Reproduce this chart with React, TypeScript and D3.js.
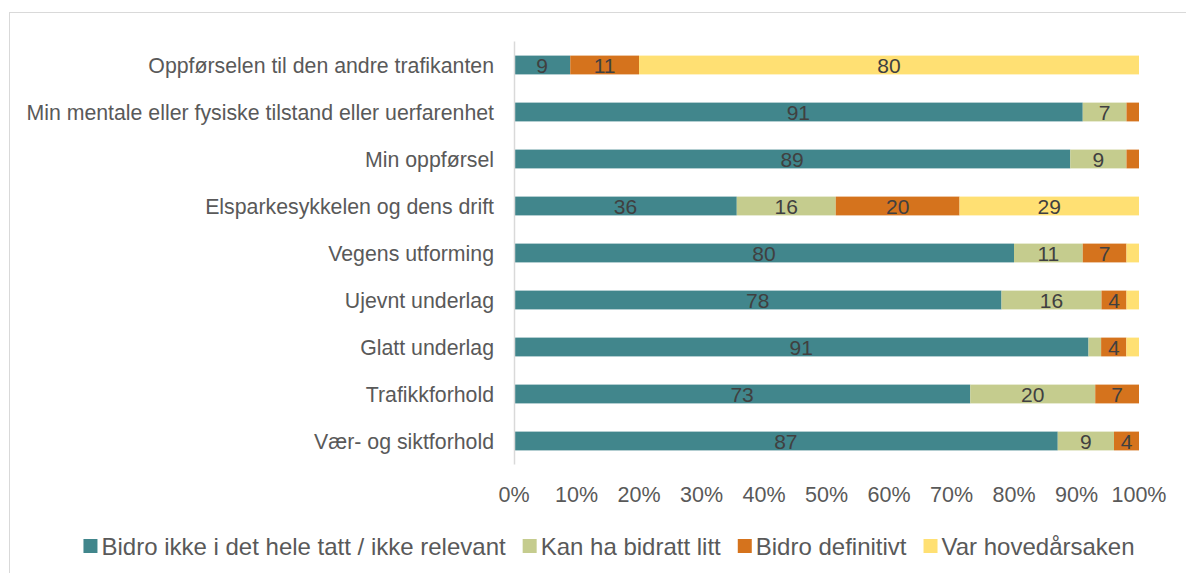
import { useEffect, useRef } from 'react';
import * as d3 from 'd3';

const categories = [
  'Oppførselen til den andre trafikanten',
  'Min mentale eller fysiske tilstand eller uerfarenhet',
  'Min oppførsel',
  'Elsparkesykkelen og dens drift',
  'Vegens utforming',
  'Ujevnt underlag',
  'Glatt underlag',
  'Trafikkforhold',
  'Vær- og siktforhold',
];

const seriesNames = [
  'Bidro ikke i det hele tatt / ikke relevant',
  'Kan ha bidratt litt',
  'Bidro definitivt',
  'Var hovedårsaken',
];

const notRelevant = [9, 91, 89, 36, 80, 78, 91, 73, 87];
const maybeLittle = [0, 7, 9, 16, 11, 16, 2, 20, 9];
const definitely = [11, 2, 2, 20, 7, 4, 4, 7, 4];
const mainCause = [80, 0, 0, 29, 2, 2, 2, 0, 0];

const tickValues = [0, 0.1, 0.2, 0.3, 0.4, 0.5, 0.6, 0.7, 0.8, 0.9, 1];

const COLORS = ['#41868C', '#C5CC8E', '#D5731D', '#FFE073'];
const FONT = '"Liberation Sans", Arial, sans-serif';

type Row = { cat: string; [k: string]: number | string };

export default function App() {
  const svgRef = useRef<SVGSVGElement>(null);

  useEffect(() => {
    const svg = d3.select(svgRef.current);
    if (!svg.node()) return;
    svg.selectAll('*').remove();

    const width = 1186;
    const height = 573;
    const plot = { left: 514, right: 1139, top: 41.5, bottom: 464.5 };

    // outer chart border, runs off the right/bottom edge like the original
    svg.append('rect')
      .attr('x', 9.5).attr('y', 12.5)
      .attr('width', width + 20).attr('height', height + 20)
      .attr('fill', '#fff').attr('stroke', '#d9d9d9');

    const values = [notRelevant, maybeLittle, definitely, mainCause];
    const rows: Row[] = categories.map((cat, i) => {
      const r: Row = { cat };
      seriesNames.forEach((s, j) => { r[s] = values[j][i]; });
      return r;
    });

    const stacked = d3.stack<Row>()
      .keys(seriesNames)
      .value((d, k) => d[k] as number)
      .offset(d3.stackOffsetExpand)(rows);

    const x = d3.scaleLinear().domain([0, 1]).range([plot.left, plot.right]);
    const y = d3.scaleBand<string>().domain(categories).range([plot.top, plot.bottom]).paddingInner(0.6).paddingOuter(0.3);

    const g = svg.append('g');

    const layers = g.selectAll('g.layer')
      .data(stacked)
      .join('g')
      .attr('class', 'layer')
      .attr('fill', (_d, i) => COLORS[i]);

    layers.selectAll('rect')
      .data((d) => d.map((p) => ({ p, key: d.key })))
      .join('rect')
      .attr('x', (d) => x(d.p[0]))
      .attr('y', (d) => y(d.p.data.cat)!)
      .attr('width', (d) => Math.max(0, x(d.p[1]) - x(d.p[0])))
      .attr('height', y.bandwidth());

    layers.selectAll('text')
      .data((d) => d.map((p) => ({ p, key: d.key })).filter((d) => (d.p.data[d.key] as number) >= 3))
      .join('text')
      .attr('x', (d) => (x(d.p[0]) + x(d.p[1])) / 2)
      .attr('y', (d) => y(d.p.data.cat)! + y.bandwidth() / 2)
      .attr('dy', '0.36em')
      .attr('text-anchor', 'middle')
      .attr('fill', '#404040')
      .attr('font-family', FONT)
      .attr('font-size', 21)
      .text((d) => String(d.p.data[d.key]));

    // vertical category axis line
    svg.append('line')
      .attr('x1', plot.left + 0.5).attr('x2', plot.left + 0.5)
      .attr('y1', plot.top).attr('y2', plot.bottom)
      .attr('stroke', '#d9d9d9').attr('stroke-width', 1.5);

    svg.append('g')
      .selectAll('text')
      .data(categories)
      .join('text')
      .attr('x', plot.left - 20)
      .attr('y', (d) => y(d)! + y.bandwidth() / 2)
      .attr('dy', '0.36em')
      .attr('text-anchor', 'end')
      .attr('fill', '#595959')
      .attr('font-family', FONT)
      .attr('font-size', 21.3)
      .text((d) => d);

    const fmt = d3.format('.0%');
    svg.append('g')
      .selectAll('text')
      .data(tickValues)
      .join('text')
      .attr('x', (d) => x(d))
      .attr('y', 494)
      .attr('dy', '0.36em')
      .attr('text-anchor', 'middle')
      .attr('fill', '#595959')
      .attr('font-family', FONT)
      .attr('font-size', 21.5)
      .text((d) => fmt(d));

    // legend, centred under the chart
    const legend = svg.append('g');
    const items = legend.selectAll('g')
      .data(seriesNames)
      .join('g');
    items.append('rect')
      .attr('width', 14).attr('height', 14)
      .attr('y', -7)
      .attr('fill', (_d, i) => COLORS[i]);
    items.append('text')
      .attr('x', 18)
      .attr('dy', '0.36em')
      .attr('fill', '#595959')
      .attr('font-family', FONT)
      .attr('font-size', 24)
      .text((d) => d);

    let cx = 0;
    items.each(function () {
      const t = d3.select(this).select<SVGTextElement>('text').node()!;
      d3.select(this).attr('transform', `translate(${cx},0)`);
      cx += 18 + t.getComputedTextLength() + 17;
    });
    const total = cx - 17;
    legend.attr('transform', `translate(${609 - total / 2},546)`);
  }, []);

  return (
    <div style={{ position: 'fixed', left: 0, top: 0, width: 1186, height: 573, overflow: 'hidden', background: '#fff' }}>
      <svg ref={svgRef} width={1186} height={573} style={{ display: 'block' }} />
    </div>
  );
}
